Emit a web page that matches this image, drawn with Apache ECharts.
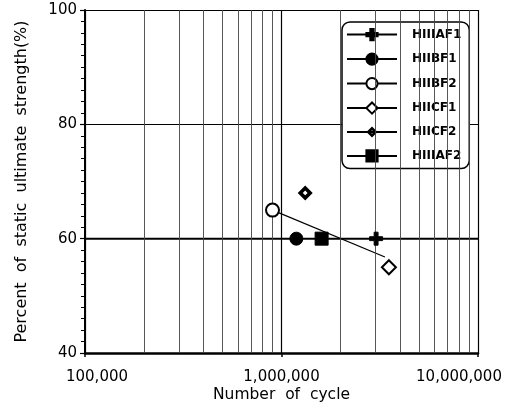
<!DOCTYPE html>
<html><head><meta charset="utf-8">
<script src="https://cdn.jsdelivr.net/npm/echarts@6/dist/echarts.min.js"></script>
<style>html,body{margin:0;padding:0;background:#fff}#c{width:532px;height:405px}</style>
</head><body><div id="c"></div>
<script>
const seriesNames = ['HIIIAF1','HIIBF1','HIIBF2','HIICF1','HIICF2','HIIIAF2'];
const cycles = [3030000, 1190000, 900000, 3520000, 1320000, 1600000];
const percents = [60, 60, 65, 55, 68, 60];
const fitX = [900000, 3360000];
const fitY = [65, 56.8];
const minorGridX = [200000,300000,400000,500000,600000,700000,800000,900000,2000000,3000000,4000000,5000000,6000000,7000000,8000000,9000000];
const yTicks = [40, 60, 80, 100];
const xTickLabels = {100000: '100,000', 1000000: '1,000,000', 10000000: '10,000,000'};

const plusPath = 'path://M3.5,0h3v3.5h3.5v3h-3.5v3.5h-3v-3.5h-3.5v-3h3.5z';
const boldDiamond = 'path://M5,0L10,5L5,10L0,5Z M5,3.4L3.4,5L5,6.6L6.6,5Z';
const symbols = [plusPath, 'circle', 'emptyCircle', 'emptyDiamond', boldDiamond, 'rect'];
const sizes = [13, 13, 13, 14, 15, 13];

const series = seriesNames.map((n,i)=>({
  name: n, type: 'line',
  data: [[cycles[i], percents[i]]],
  symbol: symbols[i], symbolSize: sizes[i],
  itemStyle: {color: '#000', borderColor: '#000', borderWidth: i === 4 ? 0 : 1},
  lineStyle: {color: '#000', width: 1},
  z: 5
}));
series.push({
  name: 'fit', type: 'line', data: fitX.map((x,i)=>[x, fitY[i]]),
  symbol: 'none', lineStyle: {color: '#000', width: 1.2}, z: 4,
  markLine: {
    silent: true, symbol: 'none', label: {show: false},
    lineStyle: {color: '#444', width: 0.9, type: 'solid'},
    data: minorGridX.map(v=>({xAxis: v}))
  }
});
series.push({
  name: 'sixty', type: 'line', data: [[100000, 60],[10000000, 60]],
  symbol: 'none', lineStyle: {color: '#000', width: 2}, z: 3
});

const chart = echarts.init(document.getElementById('c'), null, {renderer: 'canvas'});
chart.setOption({
  animation: false,
  backgroundColor: '#fff',
  grid: {left: 85, right: 54, top: 10, bottom: 52, containLabel: false, outerBoundsMode: 'none'},
  legend: {
    data: seriesNames,
    orient: 'vertical', left: 342, top: 22,
    itemWidth: 50, itemHeight: 14, itemGap: 11.3,
    padding: [6, 8, 6, 4],
    borderColor: '#000', borderWidth: 1.5, borderRadius: 8,
    backgroundColor: '#fff',
    textStyle: {fontFamily: 'DejaVu Sans', fontWeight: 'bold', fontSize: 12, color: '#000', padding: [0,0,0,10]}
  },
  xAxis: {
    type: 'log', logBase: 10, min: 100000, max: 10000000,
    name: 'Number  of  cycle', nameLocation: 'middle', nameGap: 34, nameMoveOverlap: false,
    nameTextStyle: {fontFamily: 'DejaVu Sans', fontSize: 15.5, color: '#000'},
    axisLine: {show: true, lineStyle: {color: '#000', width: 2.5}},
    axisTick: {show: true, length: 4, lineStyle: {color: '#000', width: 1.5}},
    axisLabel: {
      formatter: function(v){
        const t = xTickLabels[Math.round(v)] || '';
        if (Math.round(v) === 100000) return '{l|' + t + '}';
        if (Math.round(v) === 10000000) return '{r|' + t + '}';
        return '{m|' + t + '}';
      },
      rich: {
        l: {fontFamily: 'DejaVu Sans', fontSize: 15, color: '#000', padding: [0,0,0,24]},
        m: {fontFamily: 'DejaVu Sans', fontSize: 15, color: '#000'},
        r: {fontFamily: 'DejaVu Sans', fontSize: 15, color: '#000', padding: [0,38,0,0]}
      },
      margin: 17
    },
    splitLine: {show: true, lineStyle: {color: '#000', width: 1.2}}
  },
  yAxis: {
    type: 'value', min: yTicks[0], max: yTicks[yTicks.length-1], interval: 20,
    name: 'Percent  of  static  ultimate  strength(%)', nameLocation: 'middle', nameGap: 55, nameMoveOverlap: false,
    nameTextStyle: {fontFamily: 'DejaVu Sans', fontSize: 16, color: '#000'},
    axisLine: {show: true, lineStyle: {color: '#000', width: 2}},
    axisTick: {show: true, length: 5, lineStyle: {color: '#000', width: 1.2}},
    minorTick: {show: true, splitNumber: 10, length: 4, lineStyle: {color: '#000'}},
    axisLabel: {fontFamily: 'DejaVu Sans', fontSize: 15, color: '#000', margin: 8},
    splitLine: {show: true, lineStyle: {color: '#000', width: 1.2}}
  },
  series: series
});
</script></body></html>
